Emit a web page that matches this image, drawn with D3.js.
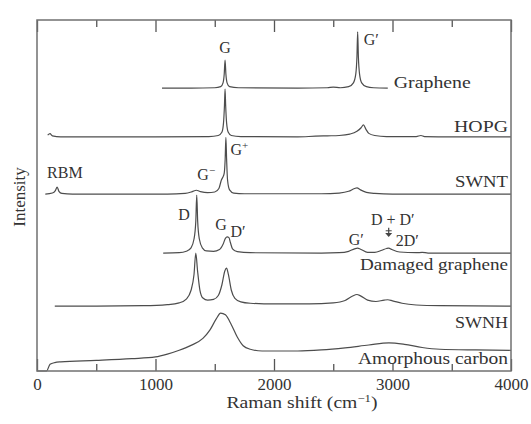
<!DOCTYPE html>
<html>
<head>
<meta charset="utf-8">
<script src="https://cdn.jsdelivr.net/npm/d3@7"></script>
<style>
  body { margin: 0; background: #fff; }
  text { font-family: "Liberation Serif", "Times New Roman", serif; fill: #333; }
</style>
</head>
<body>
<div id="chart"></div>
<script>
// Raman spectra of carbon materials, stacked with vertical offsets
var names = ["Graphene", "HOPG", "SWNT", "Damaged graphene", "SWNH", "Amorphous carbon"];
var offsets = [80.6, 66.7, 50.4, 33.6, 18.5, 5.7];

var majorTicks = [0, 1000, 2000, 3000, 4000];
var minorTicks = [500, 1500, 2500, 3500];

// [Raman shift, intensity above baseline]
var graphene = [[1055, 0], [1300, 0], [1500, 0.1], [1550, 0.4], [1570, 1.5], [1580, 4], [1587, 8], [1594, 4],
  [1604, 1.5], [1625, 0.4], [1700, 0.1], [2200, 0], [2450, 0.1], [2500, 0.3], [2560, 0.1], [2630, 0.4],
  [2670, 1.5], [2690, 4], [2700, 9], [2706, 16], [2712, 9], [2722, 4], [2740, 1.5], [2780, 0.4], [2840, 0.1], [2960, 0]];
var hopg = [[90, 0.5], [110, 0.9], [130, 0.3], [200, 0], [1000, 0], [1450, 0.1], [1530, 0.4], [1560, 1.3],
  [1574, 4], [1582, 9], [1587, 13.6], [1592, 9], [1600, 4], [1614, 1.3], [1640, 0.4], [1720, 0.1], [2200, 0],
  [2350, 0.2], [2450, 0.3], [2550, 0.4], [2640, 0.8], [2700, 1.6], [2735, 2.6], [2755, 3.4], [2775, 2.2],
  [2800, 1], [2850, 0.4], [2950, 0.1], [3200, 0.1], [3240, 0.4], [3270, 0.1], [3500, 0], [4000, 0]];
var swnt = [[70, 0], [130, 0.3], [155, 1], [170, 2], [185, 0.8], [210, 0.2], [300, 0], [1100, 0], [1250, 0.2],
  [1310, 0.7], [1345, 1.1], [1380, 0.7], [1440, 0.4], [1500, 0.6], [1535, 1.6], [1556, 4], [1568, 4.8],
  [1580, 6], [1588, 10], [1594, 16.2], [1600, 10], [1608, 4], [1625, 1.2], [1660, 0.3], [1750, 0.1],
  [2400, 0.1], [2550, 0.3], [2630, 0.8], [2680, 1.6], [2700, 1.8], [2730, 1.2], [2780, 0.5], [2850, 0.2],
  [3000, 0], [4000, 0]];
var damaged = [[1065, 0], [1200, 0.1], [1260, 0.5], [1300, 1.5], [1325, 4], [1340, 9], [1348, 16.5], [1356, 9],
  [1370, 4], [1395, 1.5], [1430, 0.6], [1490, 0.5], [1540, 1], [1570, 2.5], [1590, 4.2], [1605, 4.6],
  [1620, 4.4], [1632, 3], [1650, 1.2], [1690, 0.4], [1800, 0.1], [2400, 0], [2550, 0.1], [2630, 0.5],
  [2680, 1.2], [2705, 1.4], [2730, 1.1], [2790, 0.2], [2850, 0.2], [2910, 0.8], [2950, 1.3], [2968, 1.4],
  [2995, 1], [3060, 0.3], [3200, 0.1], [3250, 0.2], [3300, 0], [4000, 0]];
var swnh = [[150, 0], [500, 0], [900, 0.1], [1100, 0.4], [1200, 0.9], [1260, 2], [1300, 4.5], [1325, 9],
  [1340, 15.1], [1355, 10], [1375, 4.5], [1400, 2.3], [1440, 1.7], [1490, 1.9], [1530, 3], [1560, 6],
  [1585, 10], [1600, 10.8], [1615, 9], [1640, 4.5], [1670, 2.2], [1720, 1.2], [1800, 0.8], [2000, 0.6],
  [2300, 0.6], [2500, 0.9], [2600, 1.6], [2660, 2.8], [2700, 3.3], [2730, 2.9], [2790, 1.7], [2860, 1.3],
  [2930, 1.7], [2960, 1.8], [3000, 1.5], [3080, 0.8], [3200, 0.3], [3400, 0.1], [4000, 0]];
var amorphous = [[0, -5.7], [80, -5.7], [110, -3.8], [150, -3.3], [200, -3.1], [500, -2.7], [800, -2.2], [1000, -1.7],
  [1100, -0.9], [1200, 0.2], [1300, 1.6], [1400, 3.6], [1460, 6], [1510, 9], [1550, 10.8], [1590, 10.3],
  [1640, 7.5], [1690, 4], [1740, 1.5], [1800, 0.5], [1900, 0], [2200, 0], [2400, 0.3], [2600, 0.9],
  [2800, 1.7], [2970, 2.3], [3100, 1.9], [3250, 1], [3400, 0.5], [3700, 0.3], [4000, 0.2]];
var spectra = [graphene, hopg, swnt, damaged, swnh, amorphous];

// series name placement: [shift, level, anchor]
var nameSpots = [[3011, 80.6, "start"], [4000, 68.1, "end"], [4000, 52.4, "end"],
  [4000, 28.8, "end"], [4000, 12.3, "end"], [4000, 2.0, "end"]];
var nameWidths = [77, 54, 53, 148, 53, 150];

// peak annotations: [text, shift, level, anchor]
var peakLabels = [["G", 1587, 90.6, "middle"], ["G\u2032", 2757, 92.9, "start"],
  ["RBM", 85, 55.0, "start"], ["D", 1192, 43.0, "start"], ["G", 1505, 40.2, "start"],
  ["D\u2032", 1632, 38.2, "start"], ["G\u2032", 2630, 35.9, "start"], ["D + D\u2032", 3002, 41.6, "middle"],
  ["2D\u2032", 3028, 35.6, "start"]];

var width = 531, height = 424;
var x = d3.scaleLinear().domain([0, 4000]).range([37, 511]);
var y = d3.scaleLinear().domain([0, 100]).range([371, 20]);

var svg = d3.select("#chart").append("svg")
  .attr("width", width)
  .attr("height", height);

var line = d3.line()
  .x(function (d) { return x(d[0]); })
  .y(function (d) { return y(d[1] + d.off); })
  .curve(d3.curveMonotoneX);

spectra.forEach(function (s, i) {
  var pts = s.map(function (p) { var q = [p[0], p[1]]; q.off = offsets[i]; return q; });
  svg.append("path")
    .attr("d", line(pts))
    .attr("fill", "none")
    .attr("stroke", "#4d4d4d")
    .attr("stroke-width", 1.2);
});

// ticks, both sides, pointing inward
function tickAxis(axis, values, size, labels) {
  axis.tickValues(values).tickSizeInner(-size).tickSizeOuter(0).tickPadding(7);
  if (!labels) axis.tickFormat("");
  else axis.tickFormat(d3.format("d"));
  return axis;
}
var bottomAxis = svg.append("g").attr("transform", "translate(0,371)");
bottomAxis.append("g").call(tickAxis(d3.axisBottom(x), majorTicks, 12, true));
bottomAxis.append("g").call(tickAxis(d3.axisBottom(x), minorTicks, 7, false));
var topAxis = svg.append("g").attr("transform", "translate(0,20)");
topAxis.append("g").call(tickAxis(d3.axisTop(x), majorTicks, 12, false));
topAxis.append("g").call(tickAxis(d3.axisTop(x), minorTicks, 7, false));
svg.selectAll(".domain").remove();
svg.selectAll(".tick line").attr("stroke", "#555").attr("stroke-width", 1.3);
bottomAxis.selectAll(".tick text")
  .style("font-family", "'Liberation Serif', serif")
  .style("font-size", "17px")
  .attr("fill", "#444");

svg.append("rect")
  .attr("x", x(0)).attr("y", y(100))
  .attr("width", x(4000) - x(0)).attr("height", y(0) - y(100))
  .attr("fill", "none")
  .attr("stroke", "#707070")
  .attr("stroke-width", 1.5);

// series names
names.forEach(function (n, i) {
  var s = nameSpots[i];
  var t = svg.append("text")
    .attr("x", x(s[0]) - (s[2] == "end" ? 3 : 0))
    .attr("y", y(s[1]))
    .attr("text-anchor", s[2])
    .attr("font-size", 17)
    .attr("textLength", nameWidths[i])
    .attr("lengthAdjust", "spacingAndGlyphs")
    .text(n);
  if (i == names.length - 1) {
    var bb = t.node().getBBox();
    svg.insert("rect", function () { return t.node(); })
      .attr("x", bb.x - 2).attr("y", bb.y + 3)
      .attr("width", bb.width + 2).attr("height", bb.height - 7)
      .attr("fill", "#fff");
  }
});

peakLabels.forEach(function (p) {
  svg.append("text")
    .attr("x", x(p[1]))
    .attr("y", y(p[2]))
    .attr("text-anchor", p[3])
    .attr("font-size", 16)
    .text(p[0]);
});

// G- and G+ with superscripts
var gm = svg.append("text").attr("x", x(1353)).attr("y", y(54.4)).attr("font-size", 16);
gm.append("tspan").text("G");
gm.append("tspan").attr("dy", -6).attr("font-size", 11).text("\u2212");
var gp = svg.append("text").attr("x", x(1632)).attr("y", y(61.5)).attr("font-size", 16);
gp.append("tspan").text("G");
gp.append("tspan").attr("dy", -6).attr("font-size", 11).text("+");

// arrow to D + D'
var ax = x(2968), ay0 = y(40.8), ay1 = y(38.2);
svg.append("line")
  .attr("x1", ax).attr("x2", ax).attr("y1", ay0).attr("y2", ay1 - 3)
  .attr("stroke", "#444").attr("stroke-width", 1.2);
svg.append("line")
  .attr("x1", ax - 3).attr("x2", ax + 3).attr("y1", ay0 + 3).attr("y2", ay0 + 3)
  .attr("stroke", "#444").attr("stroke-width", 1);
svg.append("path")
  .attr("d", "M" + (ax - 3.5) + "," + (ay1 - 4) + "L" + (ax + 3.5) + "," + (ay1 - 4) + "L" + ax + "," + ay1 + "Z")
  .attr("fill", "#444");

// axis titles
var xt = svg.append("text")
  .attr("x", 302).attr("y", 408)
  .attr("text-anchor", "middle")
  .attr("font-size", 17)
  .attr("textLength", 151)
  .attr("lengthAdjust", "spacingAndGlyphs");
xt.append("tspan").text("Raman shift (cm");
xt.append("tspan").attr("dy", -6).attr("font-size", 11).text("\u22121");
xt.append("tspan").attr("dy", 6).text(")");

svg.append("text")
  .attr("transform", "translate(25,197) rotate(-90)")
  .attr("text-anchor", "middle")
  .attr("font-size", 17)
  .text("Intensity");
</script>
</body>
</html>
